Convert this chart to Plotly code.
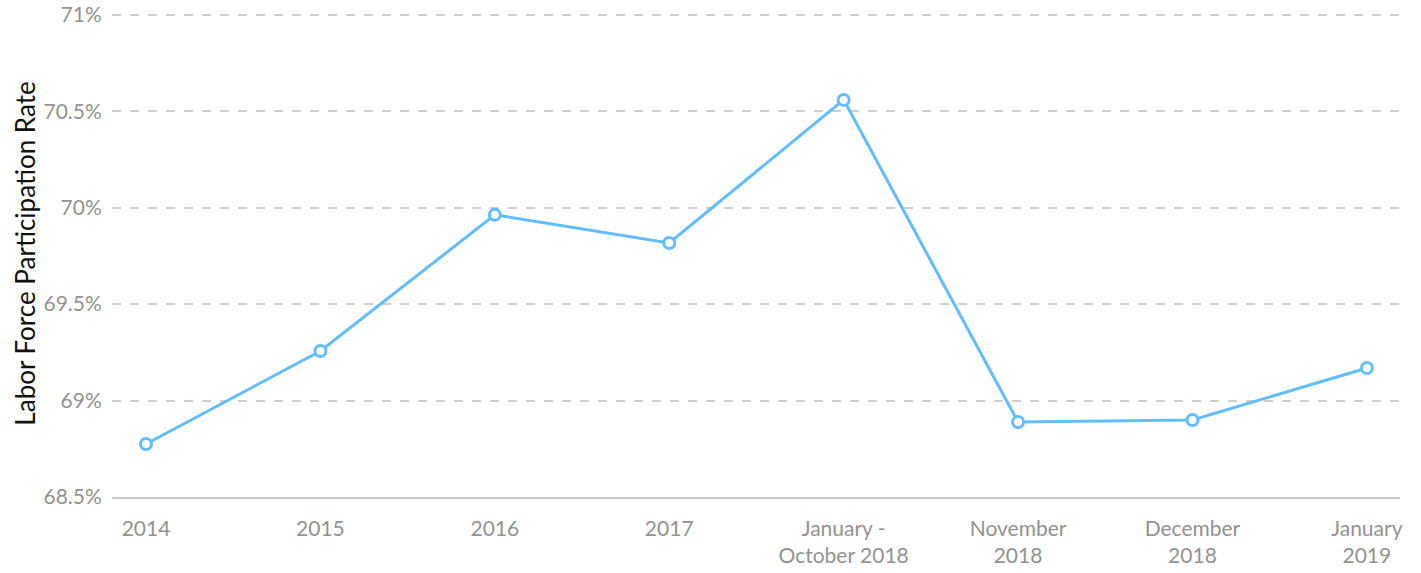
import plotly.graph_objects as go

categories = ["2014", "2015", "2016", "2017", "January -<br>October 2018",
              "November<br>2018", "December<br>2018", "January<br>2019"]
rates = [68.775, 69.257, 69.963, 69.817, 70.559, 68.889, 68.899, 69.169]
y_ticks = [68.5, 69, 69.5, 70, 70.5, 71]
y_tick_labels = ["68.5%", "69%", "69.5%", "70%", "70.5%", "71%"]

fig = go.Figure()
fig.add_trace(go.Scatter(
    x=list(range(len(categories))), y=rates, mode="lines+markers",
    line=dict(color="#62bdfd", width=3),
    marker=dict(size=11, color="white", line=dict(color="#62bdfd", width=3)),
    hoverinfo="skip",
))

fig.update_layout(
    width=1421, height=573,
    margin=dict(l=112, r=21, t=10, b=76),
    paper_bgcolor="white", plot_bgcolor="white",
    font=dict(family="Lato, sans-serif", color="#929292", size=21),
    showlegend=False,
    xaxis=dict(
        range=[-0.195, 7.19], automargin=False,
        tickmode="array", tickvals=list(range(len(categories))), ticktext=categories,
        showgrid=False, zeroline=False,
        showline=True, linecolor="#c8c8c8", linewidth=1.5,
        ticks="outside", ticklen=12, tickcolor="rgba(0,0,0,0)",
        tickfont=dict(size=21, color="#929292"),
        ticklabeloverflow="allow",
    ),
    yaxis=dict(
        range=[68.5, 71.025], automargin=False,
        tickmode="array", tickvals=y_ticks, ticktext=y_tick_labels,
        showgrid=True, gridcolor="#cfcfcf", griddash="dash", gridwidth=1.5,
        zeroline=False, showline=False,
        ticks="outside", ticklen=5, tickcolor="rgba(0,0,0,0)",
        tickfont=dict(size=21, color="#929292"),
        ticklabeloverflow="allow",
        title=dict(text="Labor Force Participation Rate",
                   font=dict(size=26, color="#111111"), standoff=0),
    ),
)
fig.write_html("out.html", config={"displayModeBar": False},
               post_script="document.body.style.margin='0';")
